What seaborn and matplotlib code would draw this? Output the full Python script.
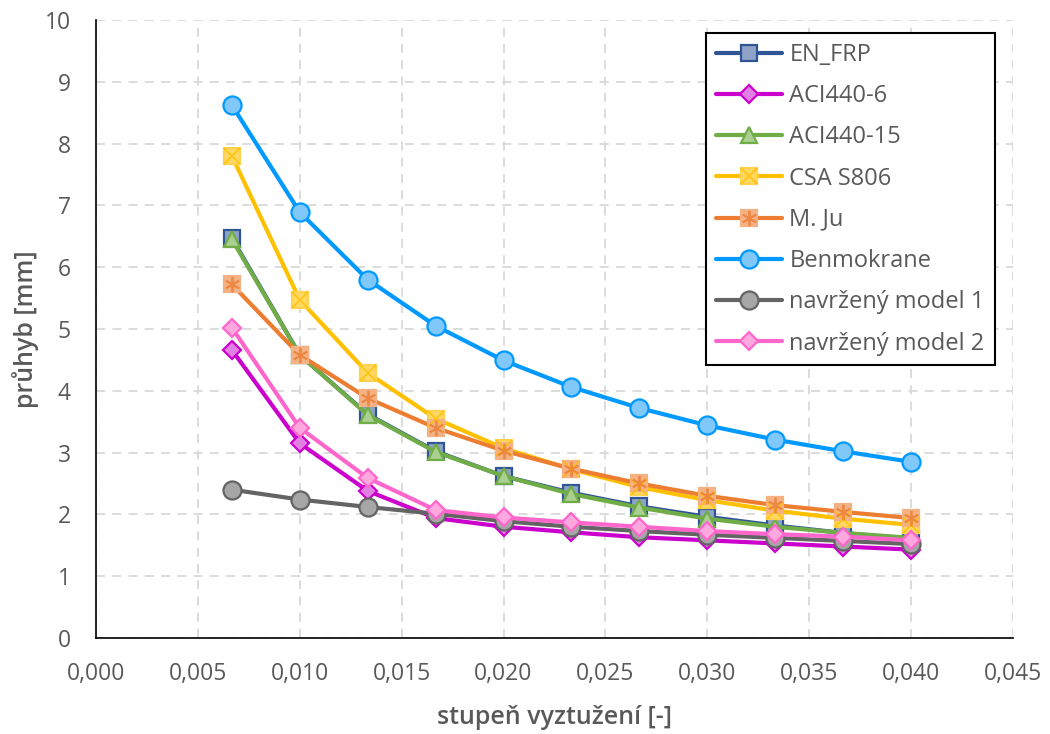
import numpy as np
import pandas as pd
import matplotlib
matplotlib.use("Agg")
import matplotlib.pyplot as plt
import seaborn as sns
from matplotlib.legend_handler import HandlerTuple
from matplotlib.ticker import FuncFormatter

# reinforcement ratio [-]
rho = [0.00667, 0.01, 0.01333, 0.01667, 0.02, 0.02333, 0.02667, 0.03, 0.03333, 0.03667, 0.04]

# deflection [mm] per model
en_frp = [6.47, 4.58, 3.62, 3.02, 2.62, 2.35, 2.13, 1.96, 1.82, 1.70, 1.60]
aci440_6 = [4.66, 3.15, 2.38, 1.94, 1.80, 1.71, 1.63, 1.58, 1.53, 1.48, 1.43]
aci440_15 = [6.45, 4.58, 3.61, 3.01, 2.62, 2.33, 2.11, 1.93, 1.80, 1.70, 1.62]
csa_s806 = [7.80, 5.47, 4.29, 3.55, 3.07, 2.73, 2.44, 2.23, 2.06, 1.93, 1.83]
m_ju = [5.72, 4.58, 3.88, 3.40, 3.03, 2.74, 2.50, 2.30, 2.15, 2.04, 1.94]
benmokrane = [8.62, 6.89, 5.80, 5.05, 4.49, 4.06, 3.72, 3.44, 3.21, 3.02, 2.85]
model_1 = [2.40, 2.24, 2.12, 2.01, 1.89, 1.80, 1.73, 1.67, 1.62, 1.57, 1.52]
model_2 = [5.02, 3.40, 2.59, 2.07, 1.95, 1.87, 1.80, 1.73, 1.68, 1.64, 1.58]

names = ["EN_FRP", "ACI440-6", "ACI440-15", "CSA S806", "M. Ju",
         "Benmokrane", "navržený model 1", "navržený model 2"]
series = [en_frp, aci440_6, aci440_15, csa_s806, m_ju, benmokrane, model_1, model_2]

x_ticks = [0.000, 0.005, 0.010, 0.015, 0.020, 0.025, 0.030, 0.035, 0.040, 0.045]
y_ticks = list(range(0, 11))

# style per series: line colour, marker, marker face, edge, overlay glyph
styles = {
    "EN_FRP": dict(color="#2F5597", marker="s", size=12, face="#8FA3C8", edge="#2F5597", over=None),
    "ACI440-6": dict(color="#CC00CC", marker="D", size=9, face="#E27FE2", edge="#CC00CC", over=None),
    "ACI440-15": dict(color="#70AD47", marker="^", size=12, face="#A9CF91", edge="#70AD47", over=None),
    "CSA S806": dict(color="#FFC000", marker="s", size=12, face="#FFD966", edge="#FFD24D", over="x"),
    "M. Ju": dict(color="#ED7D31", marker="s", size=12, face="#F4B183", edge="#F4B183", over=(6, 2, 0)),
    "Benmokrane": dict(color="#0099FF", marker="o", size=13, face="#80C8FA", edge="#0099FF", over=None),
    "navržený model 1": dict(color="#646464", marker="o", size=13, face="#A6A6A6", edge="#646464", over=None),
    "navržený model 2": dict(color="#FF66CC", marker="D", size=9, face="#FFA8E0", edge="#FF66CC", over=None),
}

sns.set_theme(style="white")
plt.rcParams["font.family"] = ["Open Sans", "DejaVu Sans"]

fig = plt.figure(figsize=(10.5, 7.34), dpi=100)
ax = fig.add_axes([0.0914, 0.1308, 0.8734, 0.842])

df = pd.DataFrame({"rho": np.tile(rho, len(names)),
                   "w": np.concatenate(series),
                   "model": np.repeat(names, len(rho))})

handles = []
for name in names:
    st = styles[name]
    sub = df[df["model"] == name]
    sns.lineplot(data=sub, x="rho", y="w", ax=ax, color=st["color"], linewidth=3,
                 marker=st["marker"], markersize=st["size"], markerfacecolor=st["face"],
                 markeredgecolor=st["edge"], markeredgewidth=1.6,
                 legend=False, zorder=3)
    h = [ax.lines[-1]]
    if st["over"] is not None:
        ov, = ax.plot(sub["rho"], sub["w"], linestyle="none", marker=st["over"],
                      markersize=st["size"] - 1, markeredgecolor=st["color"],
                      markeredgewidth=1.3, color=st["color"], zorder=4, alpha=0.8)
        h.append(ov)
    handles.append(tuple(h))

ax.set_xlim(0, 0.045)
ax.set_ylim(0, 10)
ax.set_xticks(x_ticks)
ax.set_yticks(y_ticks)
ax.xaxis.set_major_formatter(FuncFormatter(lambda v, p: f"{v:.3f}".replace(".", ",")))
ax.yaxis.set_major_formatter(FuncFormatter(lambda v, p: f"{v:.0f}"))
ax.tick_params(axis="both", labelsize=16.5, labelcolor="#595959", length=0)
ax.tick_params(axis="x", pad=17)
ax.tick_params(axis="y", pad=18)

ax.grid(True, color="#D9D9D9", linestyle=(0, (5, 4)), linewidth=1.3, zorder=0)
ax.set_axisbelow(True)
for side in ["top", "right"]:
    ax.spines[side].set_visible(False)
for side in ["left", "bottom"]:
    ax.spines[side].set_color("black")
    ax.spines[side].set_linewidth(1.2)

ax.set_xlabel("stupeň vyztužení [-]", fontsize=18, color="#595959", fontweight="semibold", labelpad=14)
ax.set_ylabel("průhyb [mm]", fontsize=18, color="#595959", fontweight="semibold", labelpad=4)

leg = ax.legend(handles, names, loc="upper right", bbox_to_anchor=(0.980, 0.979),
                borderaxespad=0,
                handler_map={tuple: HandlerTuple(ndivide=1, pad=0)},
                fontsize=17, frameon=True, fancybox=False, handlelength=2.8,
                labelspacing=0.73, borderpad=0.42, handletextpad=0.3)
leg.get_frame().set_edgecolor("black")
leg.get_frame().set_linewidth(1.5)
leg.get_frame().set_alpha(1)
for t in leg.get_texts():
    t.set_color("#595959")

fig.savefig("out.png", dpi=100)
